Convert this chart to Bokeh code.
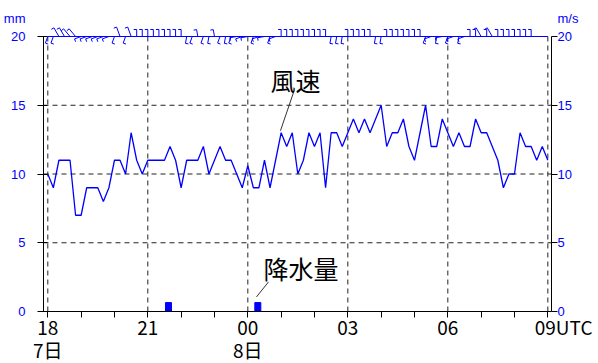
import math
from bokeh.plotting import figure
from bokeh.models import Range1d, LinearAxis, FixedTicker, Label
from bokeh.embed import file_html
from bokeh.resources import INLINE

# ---------------- data ----------------
# 10-minute wind speed (m/s), 18:00 (7th) .. 09:00 (8th) UTC
wind_speed = [
    10, 9, 11, 11, 11, 7,      # 18:00-18:50
    7, 9, 9, 9, 8, 9,          # 19
    11, 11, 10, 13, 11, 10,    # 20
    11, 11, 11, 11, 12, 11,    # 21
    9, 11, 11, 11, 12, 10,     # 22
    11, 12, 11, 11, 10, 9,     # 23
    10.6, 9, 9, 11, 9, 11,     # 00
    13, 12, 13, 10, 11, 13,    # 01
    12, 13, 9, 13, 13, 12,     # 02
    13, 14, 13, 14, 13, 14,    # 03
    15, 12, 13, 13, 14, 12,    # 04
    11, 13, 15, 12, 12, 14,    # 05
    13, 12, 13, 12, 12, 14,    # 06
    13, 13, 12, 11, 9, 10,     # 07
    10, 13, 12, 12, 11, 12,    # 08
    11,                        # 09:00
]
# wind direction (deg, from) for the barbs along the top
wind_dir = [
    200, 200, 330, 330, 320, 320,
    250, 250, 250, 250, 250, 250,
    200, 340, 200, 340, 0, 0,
    0, 0, 0, 0, 0, 0,
    0, 190, 200, 350, 200, 190,
    350, 200, 190, 200, 260, 250,
    260, 200, 250, 260, 200, 250,
    0, 0, 0, 0, 0, 0,
    0, 0, 0, 190, 190, 190,
    0, 0, 0, 0, 0, 190,
    190, 0, 0, 0, 0, 0,
    0, 0, 200, 250, 190, 260,
    200, 250, 190, 250, 0, 0,
    330, 0, 330, 0, 0, 0,
    0, 0, 0, 0, None, None,
    None,
]
start_hour = 18          # 18 UTC on the 7th
step_hours = 1 / 6       # 10 minutes
times = [start_hour + i * step_hours for i in range(len(wind_speed))]

# precipitation (mm / 10 min)
precip_time = [21.62, 24.30]
precip_mm = [0.65, 0.65]

FS = "\u2007"  # figure space (keeps '09' centred on its tick)
major_hours = [18, 21, 24, 27, 30, 33]
major_labels = ["18\n7日", "21", "00\n8日", "03", "06", FS * 3 + "09UTC"]
minor_hours = [19, 20, 22, 23, 25, 26, 28, 29, 31, 32]
y_ticks = [0, 5, 10, 15, 20]
left_labels = ["0", "5", "10", "15", "mm\n20\n" + FS]
right_labels = ["0", "5", "10", "15", "m/s\n20\n" + FS]
y_grid = [5, 10, 15]

BLUE = "#0000ff"
NARROW = "Liberation Sans Narrow, Noto Sans CJK JP, sans-serif"
JP = "Noto Sans CJK JP"

X0, X1 = 17.871, 33.11
Y0, Y1 = 0, 21.6
FW, FH = 508, 297

p = figure(width=598, height=363, frame_width=FW, frame_height=FH,
           x_range=Range1d(X0, X1), y_range=Range1d(Y0, Y1),
           output_backend="svg", toolbar_location=None,
           x_axis_type=None, y_axis_type=None,
           min_border_left=43, min_border_right=47, min_border_top=14, min_border_bottom=52)
p.outline_line_color = None
p.background_fill_color = "white"
p.border_fill_color = "white"
p.grid.visible = False

# ---------------- axes ----------------
xaxis = LinearAxis(ticker=FixedTicker(ticks=major_hours, minor_ticks=minor_hours),
                   major_label_overrides={h: l for h, l in zip(major_hours, major_labels)},
                   major_tick_out=6, major_tick_in=0, minor_tick_out=6, minor_tick_in=0,
                   major_label_standoff=-5, major_label_text_font=NARROW,
                   major_label_text_font_size="19px", major_label_text_color="black",
                   major_label_text_line_height=0.88,
                   axis_line_color="black", major_tick_line_color="black",
                   minor_tick_line_color="black")
p.add_layout(xaxis, "below")

laxis = LinearAxis(ticker=FixedTicker(ticks=y_ticks), bounds=(0, 20),
                   major_label_overrides={t: l for t, l in zip(y_ticks, left_labels)},
                   major_tick_out=6, major_tick_in=4, minor_tick_out=0, minor_tick_in=0,
                   major_label_standoff=12, major_label_text_color=BLUE,
                   major_label_text_font="Liberation Sans", major_label_text_font_size="13px",
                   axis_line_color="black")
p.add_layout(laxis, "left")
raxis = LinearAxis(ticker=FixedTicker(ticks=y_ticks), bounds=(0, 20),
                   major_label_overrides={t: l for t, l in zip(y_ticks, right_labels)},
                   major_tick_out=6, major_tick_in=0, minor_tick_out=0, minor_tick_in=0,
                   major_label_standoff=0, major_label_text_color=BLUE,
                   major_label_text_font="Liberation Sans", major_label_text_font_size="13px",
                   axis_line_color="black")
p.add_layout(raxis, "right")

# ---------------- grid ----------------
p.segment(x0=major_hours, y0=[0] * len(major_hours), x1=major_hours, y1=[20] * len(major_hours),
          line_color="#222222", line_dash="5 4", line_width=1)
p.segment(x0=[X0] * len(y_grid), y0=y_grid, x1=[X1] * len(y_grid), y1=y_grid,
          line_color="#222222", line_dash="5 4", line_width=1)

# ---------------- precipitation & wind ----------------
p.vbar(x=precip_time, top=precip_mm, bottom=0, width=0.18, fill_color=BLUE, line_color=BLUE)
p.line(times, wind_speed, line_color=BLUE, line_width=1.3)

# ---------------- wind barbs along top ----------------
pxh = FW / (X1 - X0)
pxu = FH / (Y1 - Y0)
p.segment(x0=[times[0]], y0=[20], x1=[times[-1]], y1=[20], line_color=BLUE, line_width=1)
bx0, by0, bx1, by1 = [], [], [], []
for t, d in zip(times, wind_dir):
    if d is None:
        continue
    L = 10 if 300 <= d <= 340 else 7
    th = math.radians(d)
    tx = t + L * math.sin(th) / pxh
    ty = 20 + L * math.cos(th) / pxu
    bx0.append(t); by0.append(20); bx1.append(tx); by1.append(ty)
    fth = th - math.radians(90)
    bx0.append(tx); by0.append(ty)
    bx1.append(tx + 3 * math.sin(fth) / pxh); by1.append(ty + 3 * math.cos(fth) / pxu)
p.segment(x0=bx0, y0=by0, x1=bx1, y1=by1, line_color=BLUE, line_width=1)

# ---------------- annotations ----------------
ann_wind_line = ([24.98, 25.37], [13.15, 15.92])
ann_rain_line = ([24.26, 24.62], [1.06, 2.15])
p.line(ann_wind_line[0], ann_wind_line[1], line_color="#333333", line_width=1)
p.line(ann_rain_line[0], ann_rain_line[1], line_color="#333333", line_width=1)

p.add_layout(Label(x=24.68, y=16.87, text="風速", text_font=JP, text_font_size="25px",
                   text_baseline="middle", text_align="left", text_color="black"))
p.add_layout(Label(x=24.47, y=3.18, text="降水量", text_font=JP, text_font_size="25px",
                   text_baseline="middle", text_align="left", text_color="black"))

open("out.html", "w").write(file_html(p, INLINE))
